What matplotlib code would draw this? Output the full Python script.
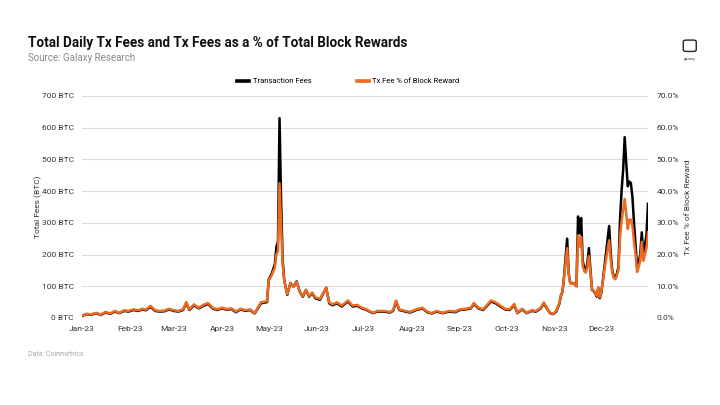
import numpy as np
import pandas as pd
import matplotlib
matplotlib.use("Agg")
import matplotlib.pyplot as plt
import matplotlib.dates as mdates
from matplotlib.patches import FancyBboxPatch

plt.rcParams['font.family'] = ['Roboto', 'DejaVu Sans']

# day of year (0 = 1 Jan 2023)
days = [0, 3, 6, 9, 12, 15, 18, 21, 24, 27, 30,
        33, 36, 39, 41, 44, 47, 50, 53, 56,
        59, 62, 65, 67, 69, 72, 75, 78, 81, 84, 87,
        90, 93, 96, 99, 102, 105, 108, 111, 113, 115, 117, 119,
        120, 121, 122, 124, 125, 126, 127, 128, 129, 130, 132, 134, 136, 138,
        140, 142, 144, 146, 148, 150,
        153, 157, 159, 161, 164, 167, 171, 174, 177, 180,
        183, 187, 190, 194, 198, 200, 202, 204, 208, 211,
        215, 219, 222, 225, 228, 232, 236, 240,
        243, 247, 250, 252, 255, 258, 261, 263, 266, 269, 272,
        275, 278, 280, 283, 286, 289, 292, 295, 297, 299, 301, 303,
        305, 307, 308, 309, 310, 312, 313, 314, 316, 318, 319, 320, 321,
        322, 323, 324, 325, 326, 327, 328, 329, 330, 331, 332, 333,
        334, 335, 337, 339, 340, 341, 342, 343, 344, 345, 346, 347, 348,
        349, 350, 351, 352, 353, 354, 355, 356, 357, 358, 359, 360, 361,
        362, 363, 364]

# total daily transaction fees (BTC)
fees = [6, 12, 10, 15, 9, 17, 13, 20, 15, 22, 20,
        25, 22, 27, 24, 35, 22, 20, 21, 27,
        22, 20, 25, 47, 25, 40, 30, 38, 44, 30, 25,
        30, 26, 28, 18, 27, 22, 25, 14, 30, 46, 48, 50,
        120, 130, 140, 170, 225, 240, 630, 370, 183, 120, 73, 110, 98, 115,
        83, 67, 88, 67, 78, 62,
        57, 95, 46, 40, 46, 36, 52, 36, 38, 30,
        25, 15, 20, 20, 17, 22, 52, 25, 20, 17,
        25, 30, 18, 14, 20, 15, 20, 18,
        25, 27, 30, 44, 30, 25, 41, 52, 46, 36, 27,
        25, 41, 15, 27, 15, 22, 20, 30, 46, 30, 15, 12,
        20, 45, 70, 83, 130, 250, 140, 110, 110, 100, 320, 267, 315,
        180, 157, 150, 172, 220, 150, 88, 85, 78, 67, 95, 62,
        80, 120, 205, 290, 205, 150, 130, 125, 140, 160, 310, 400, 467,
        570, 488, 415, 430, 425, 380, 300, 230, 160, 175, 200, 270, 200,
        230, 260, 360]

# tx fees as % of total block reward
pct = [0.7, 1.3, 1.1, 1.6, 1.0, 1.9, 1.4, 2.2, 1.6, 2.4, 2.2,
       2.7, 2.4, 2.9, 2.6, 3.8, 2.4, 2.2, 2.3, 2.9,
       2.4, 2.2, 2.7, 5.0, 2.7, 4.3, 3.2, 4.1, 4.7, 3.2, 2.7,
       3.2, 2.8, 3.0, 2.0, 2.9, 2.4, 2.7, 1.5, 3.2, 4.9, 5.1, 5.3,
       11.8, 12.6, 13.5, 15.9, 20.0, 21.0, 42.5, 29.0, 16.9, 11.8, 7.5, 10.9, 9.8, 11.3,
       8.4, 6.9, 8.9, 6.9, 8.0, 6.5,
       6.0, 9.5, 4.9, 4.3, 4.9, 3.9, 5.5, 3.9, 4.1, 3.2,
       2.7, 1.6, 2.2, 2.2, 1.9, 2.4, 5.5, 2.7, 2.2, 1.9,
       2.7, 3.2, 2.0, 1.5, 2.2, 1.6, 2.2, 2.0,
       2.7, 2.9, 3.2, 4.7, 3.2, 2.7, 4.4, 5.5, 4.9, 3.9, 2.9,
       2.7, 4.4, 1.6, 2.9, 1.6, 2.4, 2.2, 3.2, 4.9, 3.2, 1.6, 1.3,
       2.2, 4.8, 7.2, 8.4, 12.6, 22.0, 13.5, 10.9, 10.9, 10.0, 26.0, 22.5, 25.5,
       16.5, 14.8, 14.3, 16.0, 19.5, 14.3, 8.9, 8.6, 8.0, 6.9, 9.5, 6.5,
       8.2, 11.8, 18.5, 24.5, 18.5, 14.3, 12.6, 12.2, 13.5, 15.0, 25.5, 30.5, 34.0,
       37.5, 33.0, 28.0, 31.0, 31.0, 29.0, 24.0, 20.0, 14.5, 16.0, 18.0, 24.0, 18.0,
       20.0, 22.0, 27.0]

dates = pd.Timestamp("2023-01-01") + pd.to_timedelta(days, unit="D")

btc_ticks = [0, 100, 200, 300, 400, 500, 600, 700]
pct_ticks = [0, 10, 20, 30, 40, 50, 60, 70]

black = "#000000"
orange = "#EE6A1F"
grey_txt = "#333333"

fig = plt.figure(figsize=(7.2, 4.05), dpi=100)
ax = fig.add_axes([0.114, 0.215, 0.786, 0.548])
ax2 = ax.twinx()

l1, = ax.plot(dates, fees, color=black, lw=1.8, label="Transaction Fees")
l2, = ax2.plot(dates, pct, color=orange, lw=1.8, label="Tx Fee % of Block Reward")

ax.set_ylim(0, 700)
ax2.set_ylim(0, 70)
ax.set_xlim(pd.Timestamp("2023-01-01"), pd.Timestamp("2023-12-31"))
ax.set_yticks(btc_ticks)
ax.set_yticklabels([f"{v} BTC" for v in btc_ticks])
ax2.set_yticks(pct_ticks)
ax2.set_yticklabels([f"{v:.1f}%" for v in pct_ticks])
ax.xaxis.set_major_locator(mdates.MonthLocator())
ax.xaxis.set_major_formatter(mdates.DateFormatter("%b-%y"))

ax.grid(axis="y", color="#dddddd", lw=0.8)
ax.set_axisbelow(True)
for a in (ax, ax2):
    for s in a.spines.values():
        s.set_visible(False)
    a.tick_params(length=0, labelsize=6, colors=grey_txt, pad=6)

ax.set_ylabel("Total Fees (BTC)", fontsize=6, color=grey_txt, labelpad=0)
ax2.set_ylabel("Tx Fee % of Block Reward", fontsize=6, color=grey_txt, labelpad=4.5)

leg = fig.legend([l1, l2], ["Transaction Fees", "Tx Fee % of Block Reward"],
                 loc="center", bbox_to_anchor=(0.484, 0.8), ncol=2, frameon=False,
                 fontsize=5.5, handlelength=1.5, columnspacing=6, handletextpad=0.5)
for h in leg.legend_handles:
    h.set_linewidth(2.6)

fig.text(0.039, 0.893, "Total Daily Tx Fees and Tx Fees as a % of Total Block Rewards",
         fontsize=9.75, fontweight="bold", color="#111111", va="center")
fig.text(0.039, 0.858, "Source: Galaxy Research", fontsize=7, color="#888888", va="center")
fig.text(0.039, 0.125, "Data: Coinmetrics", fontsize=5, color="#aaaaaa", va="center")

# small logo at top right
fig.patches.append(FancyBboxPatch((0.951, 0.875), 0.014, 0.024,
                                  boxstyle="round,pad=0.002,rounding_size=0.004",
                                  transform=fig.transFigure, fill=False,
                                  ec="#222222", lw=1.0))
fig.text(0.958, 0.855, "galaxy", fontsize=3, color="#444444", ha="center", va="center")

fig.savefig("out.png", dpi=100)
